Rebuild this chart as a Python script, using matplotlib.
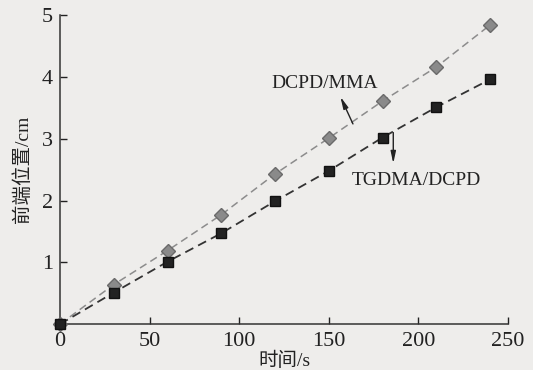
import numpy as np
import matplotlib.pyplot as plt

# time (s) and front position (cm)
time_s = [0, 30, 60, 90, 120, 150, 180, 210, 240]
dcpd_mma = [0.0, 0.64, 1.19, 1.77, 2.43, 3.01, 3.61, 4.16, 4.84]
tgdma_dcpd = [0.0, 0.51, 1.01, 1.47, 1.99, 2.48, 3.02, 3.51, 3.96]

xticks = [0, 50, 100, 150, 200, 250]
yticks = [1, 2, 3, 4, 5]

fonts = ['Liberation Serif', 'Noto Sans CJK SC']
plt.rcParams['font.family'] = fonts

bg = '#eeedeb'
fig = plt.figure(figsize=(5.33, 3.70), dpi=100, facecolor=bg)
ax = fig.add_axes([0.1126, 0.124, 0.8404, 0.835], facecolor=bg)

ax.plot(time_s, dcpd_mma, linestyle=(0, (5, 3)), color='#8c8c8c', lw=1.1,
        marker='D', markersize=7.5, markerfacecolor='#8a8a8a',
        markeredgecolor='#6a6a6a', clip_on=False, zorder=3)
ax.plot(time_s, tgdma_dcpd, linestyle=(0, (5, 3)), color='#333333', lw=1.3,
        marker='s', markersize=6.5, markerfacecolor='#222222',
        markeredgecolor='#111111', clip_on=False, zorder=4)

ax.set_xlim(0, 250)
ax.set_ylim(0, 5)
ax.set_xticks(xticks)
ax.set_yticks(yticks)
ax.tick_params(direction='in', length=5, width=1, labelsize=16, colors='#222222')
ax.tick_params(axis='x', pad=6)
ax.tick_params(axis='y', pad=5)
for s in ['top', 'right']:
    ax.spines[s].set_visible(False)
for s in ['left', 'bottom']:
    ax.spines[s].set_linewidth(1.1)
    ax.spines[s].set_color('#333333')

ax.set_xlabel('时间/s', fontsize=14, labelpad=0, color='#222222')
ax.set_ylabel('前端位置/cm', fontsize=14, labelpad=7, color='#222222')

arrow = dict(arrowstyle='-|>,head_length=0.7,head_width=0.15', color='#222222',
             lw=1, shrinkA=0, shrinkB=0)
ax.annotate('', xy=(156.5, 3.68), xytext=(163.5, 3.24), arrowprops=arrow)
ax.text(148, 3.9, 'DCPD/MMA', fontsize=14, ha='center', va='center', color='#222222')
ax.annotate('', xy=(186, 2.6), xytext=(186, 3.1), arrowprops=arrow)
ax.text(199, 2.32, 'TGDMA/DCPD', fontsize=14, ha='center', va='center', color='#222222')

fig.savefig('out.png', dpi=100, facecolor=bg)
